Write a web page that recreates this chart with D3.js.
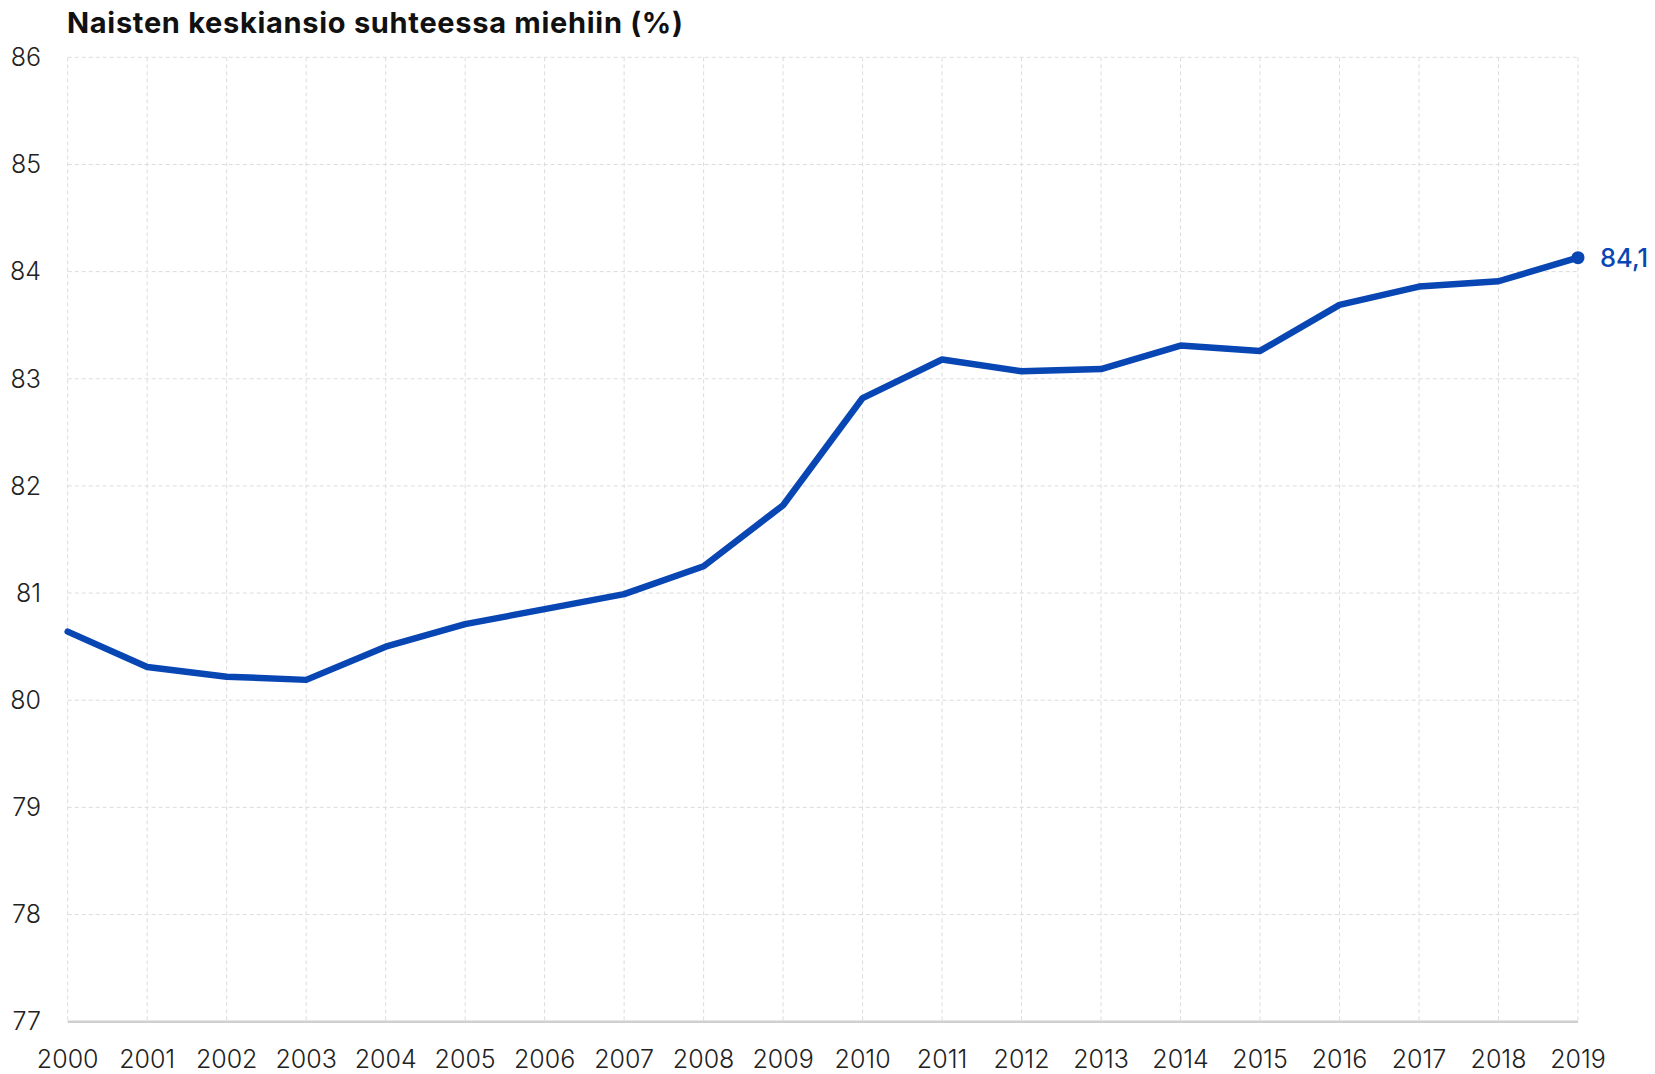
<!DOCTYPE html>
<html><head><meta charset="utf-8">
<script src="https://cdn.jsdelivr.net/npm/d3@7"></script>
<style>
body{margin:0;background:#fff;}
svg{display:block;}
</style></head>
<body>
<svg id="chart" width="1655" height="1074"></svg>
<script>
const years = [2000,2001,2002,2003,2004,2005,2006,2007,2008,2009,2010,2011,2012,2013,2014,2015,2016,2017,2018,2019];
const values = [80.64,80.31,80.22,80.19,80.50,80.71,80.85,80.99,81.25,81.82,82.82,83.18,83.07,83.09,83.31,83.26,83.69,83.86,83.91,84.13];
const yTicks = [77,78,79,80,81,82,83,84,85,86];
const title = "Naisten keskiansio suhteessa miehiin (%)";
const endLabel = "84,1";

const svg = d3.select("#chart");
const m = {left:67.7, right:1578, top:57.3, bottom:1021.7};
const x = d3.scalePoint().domain(years).range([m.left, m.right]);
const y = d3.scaleLinear().domain([77,86]).range([m.bottom, m.top]);
const blue = "#0846b4";

// vertical gridlines
svg.append("g").selectAll("line").data(years).join("line")
  .attr("x1", d=>x(d)).attr("x2", d=>x(d))
  .attr("y1", m.top).attr("y2", m.bottom)
  .attr("stroke", "#dcdcdc").attr("stroke-width",1).attr("stroke-dasharray","4,3");
// horizontal gridlines
svg.append("g").selectAll("line").data(yTicks.filter(d=>d>77)).join("line")
  .attr("x1", m.left).attr("x2", m.right)
  .attr("y1", d=>y(d)).attr("y2", d=>y(d))
  .attr("stroke", "#dcdcdc").attr("stroke-width",1).attr("stroke-dasharray","4,3");
// baseline
svg.append("line").attr("x1", m.left).attr("x2", m.right)
  .attr("y1", y(77)).attr("y2", y(77))
  .attr("stroke", "#cfcfcf").attr("stroke-width", 2.5);

// y labels
svg.append("g").selectAll("text").data(yTicks).join("text")
  .attr("x", 41).attr("y", d=>y(d)).attr("dy","0.35em")
  .attr("text-anchor","end")
  .attr("font-family","Inter, sans-serif").attr("font-weight",300)
  .attr("font-size",25).attr("fill","#222")
  .text(d=>d);

// x labels
svg.append("g").selectAll("text").data(years).join("text")
  .attr("x", d=>x(d)).attr("y", 1059).attr("dy","0.35em")
  .attr("text-anchor","middle")
  .attr("font-family","Inter, sans-serif").attr("font-weight",300)
  .attr("font-size",25).attr("fill","#222")
  .text(d=>d);

// title
svg.append("text").attr("x", 67).attr("y", 33.3)
  .attr("font-family","Inter, sans-serif").attr("font-weight",700)
  .attr("font-size",29).attr("letter-spacing",0.7).attr("fill","#111")
  .text(title);

// line
const line = d3.line().x((d,i)=>x(years[i])).y(d=>y(d));
svg.append("path").datum(values)
  .attr("d", line).attr("fill","none")
  .attr("stroke", blue).attr("stroke-width",6.5)
  .attr("stroke-linejoin","round").attr("stroke-linecap","round");

// end dot + label
const li = years.length-1;
svg.append("circle").attr("cx", x(years[li])).attr("cy", y(values[li])).attr("r",6.5).attr("fill",blue);
svg.append("text").attr("x", x(years[li])+22).attr("y", y(values[li])).attr("dy","0.35em")
  .attr("font-family","Inter, sans-serif").attr("font-weight",500)
  .attr("font-size",25.5).attr("fill",blue)
  .text(endLabel);
</script>
</body></html>
